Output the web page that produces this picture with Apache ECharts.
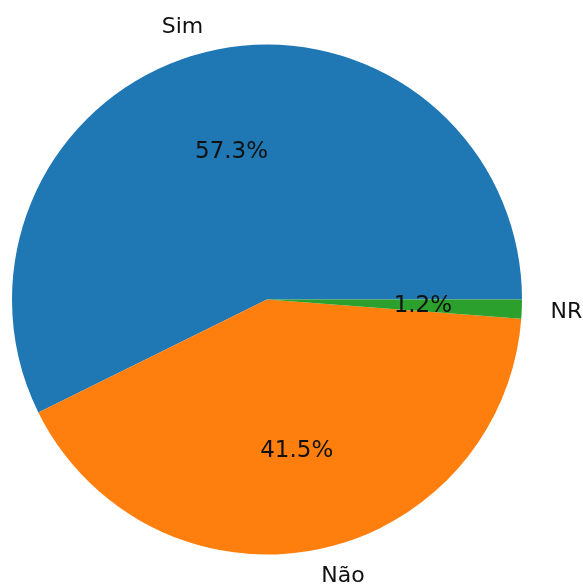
<!DOCTYPE html>
<html>
<head>
<meta charset="utf-8">
<script src="https://cdn.jsdelivr.net/npm/echarts@6/dist/echarts.min.js"></script>
<style>
  html, body { margin: 0; padding: 0; background: #fff; }
  #chart { width: 583px; height: 588px; }
</style>
</head>
<body>
<div id="chart"></div>
<script>
// Answers and their shares (%)
const categories = ['Sim', 'Não', 'NR'];
const shares = [57.3, 41.5, 1.2];
const colors = ['#1f77b4', '#ff7f0e', '#2ca02c'];

const center = [267, 299.5];
const R = 255;
const font = 'DejaVu Sans';

const chart = echarts.init(document.getElementById('chart'), null, { renderer: 'canvas' });

const slices = categories.map((name, i) => ({ name, value: shares[i], itemStyle: { color: colors[i] } }));
const ghost = (extra) => categories.map((name, i) => Object.assign({
  name, value: shares[i], itemStyle: { color: 'rgba(0,0,0,0)' }
}, extra ? extra[i] : {}));

// category names sit just beyond the rim, aligned away from the centre
const nameOffsets = [
  { label: { offset: [-20, 4] } },
  { label: { offset: [22, -2] } },
  { label: { offset: [16, 2] } }
];
const pctOffsets = [
  { label: { offset: [0, 4] } },
  { label: { offset: [0, -2] } },
  { label: { offset: [0, 1] } }
];

chart.setOption({
  backgroundColor: '#ffffff',
  animation: false,
  series: [
    {
      type: 'pie',
      center, radius: R,
      startAngle: 0, clockwise: false,
      silent: true,
      data: slices,
      label: { show: false },
      labelLine: { show: false },
      itemStyle: { borderWidth: 0 }
    },
    {
      // percentage labels at 0.6 of the radius
      type: 'pie',
      center, radius: R * 1.2,
      startAngle: 0, clockwise: false,
      silent: true, z: 3,
      data: ghost(pctOffsets),
      label: {
        show: true, position: 'inside',
        formatter: p => shares[p.dataIndex].toFixed(1) + '%',
        color: '#111', fontFamily: font, fontSize: 23
      },
      labelLine: { show: false },
      itemStyle: { borderWidth: 0 }
    },
    {
      // category names at 1.1 of the radius
      type: 'pie',
      center, radius: R * 2.2,
      startAngle: 0, clockwise: false,
      silent: true, z: 3,
      data: ghost(nameOffsets),
      label: {
        show: true, position: 'inside',
        formatter: '{b}',
        color: '#111', fontFamily: font, fontSize: 22
      },
      labelLine: { show: false },
      itemStyle: { borderWidth: 0 }
    }
  ]
});
</script>
</body>
</html>
